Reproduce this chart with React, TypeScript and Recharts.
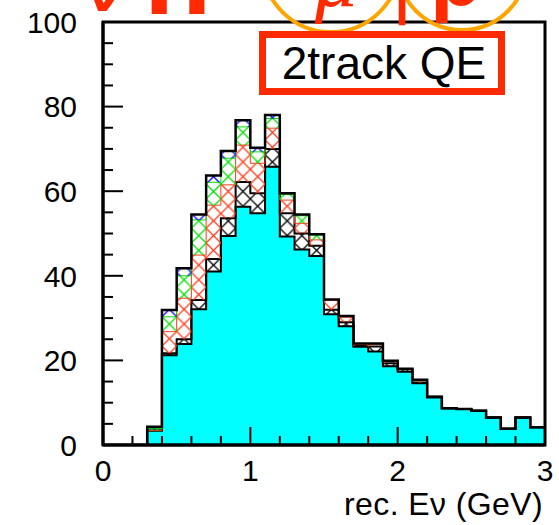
import React from 'react';
import { ComposedChart, Area, XAxis, YAxis, Label } from 'recharts';

// bin lower edges (GeV), bin width 0.1
const binEdges = [
  0.0, 0.1, 0.2, 0.3, 0.4, 0.5, 0.6, 0.7, 0.8, 0.9,
  1.0, 1.1, 1.2, 1.3, 1.4, 1.5, 1.6, 1.7, 1.8, 1.9,
  2.0, 2.1, 2.2, 2.3, 2.4, 2.5, 2.6, 2.7, 2.8, 2.9,
];
const xMax = 3;
const yMax = 100;

// stacked contributions per bin, bottom to top
const cyanQE = [
  0, 0, 0, 3.4, 21.2, 23.9, 32.1, 41.0, 49.4, 56.3,
  54.8, 65.8, 49.3, 46.2, 44.7, 30.9, 28.1, 23.2, 22.1, 18.6,
  17.3, 14.6, 11.2, 8.7, 8.5, 8.1, 6.5, 3.8, 6.5, 4.2,
];
const blackHatch = [
  0, 0, 0, 0, 0.5, 1.1, 2.2, 3.0, 4.2, 5.9,
  4.7, 4.2, 5.5, 3.8, 2.4, 1.1, 0.9, 0.2, 1.2, 0.7,
  0.6, 0.2, 0.2, 0, 0, 0, 0, 0, 0, 0,
];
const redHatch = [
  0, 0, 0, 0, 5.1, 9.7, 10.6, 12.7, 7.9, 8.7,
  7.1, 4.9, 3.1, 2.4, 1.4, 2.2, 1.2, 0.4, 0.5, 0.6,
  0.1, 0.4, 0, 0, 0, 0, 0, 0, 0, 0,
];
const greenHatch = [
  0, 0, 0, 0.5, 3.5, 5.3, 8.3, 5.4, 6.3, 4.3,
  2.7, 2.3, 1.3, 1.8, 1.1, 0.2, 0.3, 0.2, 0.2, 0,
  0, 0, 0, 0, 0, 0, 0, 0.1, 0, 0,
];
const blueHatch = [
  0, 0, 0, 0.4, 1.6, 1.8, 1.3, 1.6, 1.7, 1.6,
  1.0, 0.8, 0.3, 0.3, 0.2, 0, 0, 0, 0, 0,
  0, 0.2, 0, 0, 0, 0, 0, 0, 0, 0,
];

const xMajor = [0, 1, 2, 3];
const xMinor = [0.2, 0.4, 0.6, 0.8, 1.2, 1.4, 1.6, 1.8, 2.2, 2.4, 2.6, 2.8];
const yMajor = [0, 20, 40, 60, 80, 100];
const yMinor = [5, 10, 15, 25, 30, 35, 45, 50, 55, 65, 70, 75, 85, 90, 95];

const W = 559;
const H = 525;
// plot box (frame) in page pixels
const PLOT = { left: 103, top: 22, right: 545, bottom: 445 };

const FONT = '"Liberation Sans", Arial, Helvetica, sans-serif';
const RED = '#ff2a00';

const rows = binEdges.map((x, i) => ({
  x,
  cyan: cyanQE[i],
  black: blackHatch[i],
  red: redHatch[i],
  green: greenHatch[i],
  blue: blueHatch[i],
}));
// closing edge of the last bin for the step outline
rows.push({ ...rows[rows.length - 1], x: xMax });

const XLabelTick = (props: any) => {
  const { x, y, payload } = props;
  return (
    <text x={x} y={y + 36} textAnchor="middle" fontSize={30} fontFamily={FONT} fill="#000">
      {payload.value}
    </text>
  );
};

const YLabelTick = (props: any) => {
  const { x, y, payload } = props;
  return (
    <text x={x - 26} y={y} dy="0.36em" textAnchor="end" fontSize={30} fontFamily={FONT} fill="#000">
      {payload.value}
    </text>
  );
};

const binPx = (PLOT.right - PLOT.left) / (binEdges.length);
const hatch = (id: string, color: string) => (
  <pattern id={id} patternUnits="userSpaceOnUse" x={PLOT.left} y={PLOT.top} width={binPx} height={binPx}>
    <path d={`M0,0 L${binPx},${binPx} M${binPx},0 L0,${binPx}`} stroke={color} strokeWidth={1.3} fill="none" />
  </pattern>
);

// frame + inward ticks, drawn over the plot like the ROOT canvas
const Frame = () => {
  const px = (v: number) => PLOT.left + (v / xMax) * (PLOT.right - PLOT.left);
  const py = (v: number) => PLOT.bottom - (v / yMax) * (PLOT.bottom - PLOT.top);
  return (
    <svg width={W} height={H} style={{ position: 'absolute', left: 0, top: 0, pointerEvents: 'none' }}>
      <g stroke="#000" strokeWidth={2}>
        {xMajor.map((v) => <line key={`xM${v}`} x1={px(v)} x2={px(v)} y1={PLOT.bottom} y2={PLOT.bottom - 18} />)}
        {xMinor.map((v) => <line key={`xm${v}`} x1={px(v)} x2={px(v)} y1={PLOT.bottom} y2={PLOT.bottom - 9} />)}
        {yMajor.map((v) => <line key={`yM${v}`} x1={PLOT.left} x2={PLOT.left + 20} y1={py(v)} y2={py(v)} />)}
        {yMinor.map((v) => <line key={`ym${v}`} x1={PLOT.left} x2={PLOT.left + 10} y1={py(v)} y2={py(v)} />)}
      </g>
      <rect x={PLOT.left} y={PLOT.top} width={PLOT.right - PLOT.left} height={PLOT.bottom - PLOT.top}
        fill="none" stroke="#000" strokeWidth={3} />
    </svg>
  );
};

export default function App() {
  return (
    <div style={{ position: 'absolute', left: 0, top: 0, width: W, height: H, background: '#fff' }}>
      <ComposedChart width={W} height={H} data={rows}
        margin={{ top: PLOT.top, right: W - PLOT.right, left: 0, bottom: 0 }}>
        <defs>
          {hatch('hBlack', '#000')}
          {hatch('hRed', '#ff3a1a')}
          {hatch('hGreen', '#00e000')}
          {hatch('hBlue', '#0000ff')}
        </defs>
        <Area dataKey="cyan" stackId="s" type="stepAfter" fill="#00ffff" fillOpacity={1}
          stroke="#000" strokeWidth={2} dot={false} activeDot={false} isAnimationActive={false} />
        <Area dataKey="black" stackId="s" type="stepAfter" fill="url(#hBlack)" fillOpacity={1}
          stroke="#000" strokeWidth={2} dot={false} activeDot={false} isAnimationActive={false} />
        <Area dataKey="red" stackId="s" type="stepAfter" fill="url(#hRed)" fillOpacity={1}
          stroke="#ff3a1a" strokeWidth={1} dot={false} activeDot={false} isAnimationActive={false} />
        <Area dataKey="green" stackId="s" type="stepAfter" fill="url(#hGreen)" fillOpacity={1}
          stroke="#00e000" strokeWidth={1} dot={false} activeDot={false} isAnimationActive={false} />
        <Area dataKey="blue" stackId="s" type="stepAfter" fill="url(#hBlue)" fillOpacity={1}
          stroke="#000" strokeWidth={2.5} dot={false} activeDot={false} isAnimationActive={false} />

        <XAxis dataKey="x" type="number" domain={[0, xMax]} ticks={xMajor} interval={0}
          height={H - PLOT.bottom} tickSize={0} tickMargin={0} tickLine={false} tick={<XLabelTick />}
          axisLine={{ stroke: '#000', strokeWidth: 3 }} allowDataOverflow>
          <Label
            content={(p: any) => {
              const vb = p.viewBox;
              return (
                <text x={vb.x + vb.width - 2} y={vb.y + 70} textAnchor="end" fontSize={32}
                  letterSpacing={0.4} fontFamily={FONT} fill="#000">
                  rec. Eν (GeV)
                </text>
              );
            }}
          />
        </XAxis>
        <YAxis type="number" domain={[0, yMax]} ticks={yMajor} interval={0} width={PLOT.left}
          tickSize={0} tickMargin={0} tickLine={false} tick={<YLabelTick />}
          axisLine={{ stroke: '#000', strokeWidth: 3 }} allowDataOverflow />
      </ComposedChart>

      <Frame />

      <svg width={W} height={40} style={{ position: 'absolute', left: 0, top: 0, overflow: 'hidden' }}>
        <text x={104} y={11} textAnchor="middle" fontSize={100} fontFamily={FONT} fill={RED}>ν</text>
        <text x={144} y={14} fontSize={110} fontFamily={FONT} fontWeight="bold" fill={RED}>n</text>
        <circle cx={331} cy={-37} r={69} fill="none" stroke="#ffa500" strokeWidth={4} />
        <text x={336} y={6} textAnchor="middle" fontSize={85} fontFamily='"Liberation Serif", serif' fontStyle="italic" fill={RED}>μ</text>
        <text x={402} y={14} textAnchor="middle" fontSize={52} fontFamily={FONT} fontWeight="bold" fill={RED}>|</text>
        <circle cx={462} cy={-35} r={65} fill="none" stroke="#ffa500" strokeWidth={4} />
        <text x={430} y={5} fontSize={85} fontFamily={FONT} fontWeight="bold" fill={RED}>p</text>
      </svg>

      <div
        style={{
          position: 'absolute', left: 259, top: 31, width: 246, height: 64, boxSizing: 'border-box',
          border: `7px solid ${RED}`, background: '#fff', fontFamily: FONT, fontSize: 46,
          lineHeight: '50px', textAlign: 'center', color: '#000', paddingLeft: 4, whiteSpace: 'nowrap',
        }}
      >
        2track QE
      </div>
    </div>
  );
}
